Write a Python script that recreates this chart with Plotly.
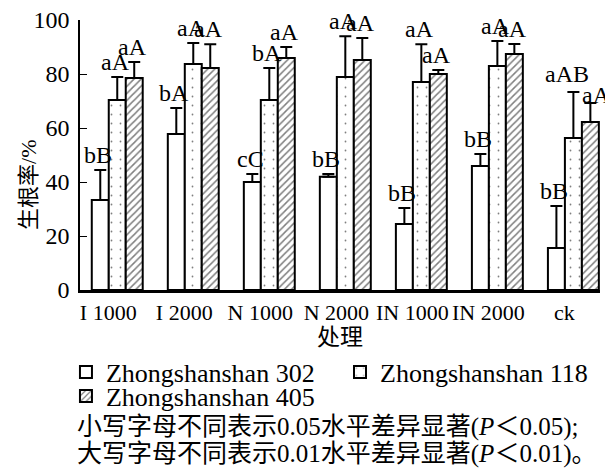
import plotly.graph_objects as go

categories = ["I 1000", "I 2000", "N 1000", "N 2000", "IN 1000", "IN 2000", "ck"]
series_names = ["Zhongshanshan 302", "Zhongshanshan 118", "Zhongshanshan 405"]

v302 = [33.3, 57.8, 40.0, 41.9, 24.4, 45.9, 15.6]
v118 = [70.4, 83.7, 70.4, 78.9, 77.0, 83.0, 56.3]
v405 = [78.5, 82.2, 85.9, 85.2, 80.0, 87.4, 62.2]

e302 = [11.1, 9.6, 3.0, 1.1, 6.0, 4.5, 15.5]
e118 = [8.5, 7.8, 11.8, 15.1, 14.0, 9.2, 17.0]
e405 = [5.9, 8.8, 4.1, 8.1, 1.5, 3.7, 7.1]

l302 = ["bB", "bA", "cC", "bB", "bB", "bB", "bB"]
l118 = ["aA", "aA", "bA", "aA", "aA", "aA", "aAB"]
l405 = ["aA", "aA", "aA", "aA", "aA", "aA", "aA"]

values = [v302, v118, v405]
errors = [e302, e118, e405]
letters = [l302, l118, l405]

# small layout nudges (px) for labels that sit beside their error bar
label_nudge = {(1, 6): (-4, 3), (2, 6): (8, -7)}

SERIF = "Liberation Serif, Noto Sans CJK SC"
BARGAP = 0.33
x_idx = list(range(len(categories)))

patterns = [
    dict(shape=""),
    dict(shape=".", size=9, solidity=0.03, fgcolor="black", bgcolor="white"),
    dict(shape="/", size=5, solidity=0.3, fgcolor="black", bgcolor="white"),
]
legend_ids = ["legend", "legend2", "legend3"]

fig = go.Figure()
for s in range(3):
    fig.add_trace(go.Bar(
        x=x_idx, y=values[s], name=series_names[s], legend=legend_ids[s],
        marker=dict(color="white", line=dict(color="black", width=2), pattern=patterns[s]),
        error_y=dict(type="data", array=errors[s], arrayminus=[0] * len(categories),
                     symmetric=False, color="black", thickness=2, width=6),
    ))

w = (1 - BARGAP) / 3
for s in range(3):
    for i in range(len(categories)):
        dx, dy = label_nudge.get((s, i), (0, 0))
        fig.add_annotation(
            x=i + (s - 1) * w, y=values[s][i] + errors[s][i],
            text=letters[s][i], showarrow=False, yanchor="bottom",
            xshift=-2 + dx, yshift=dy,
            font=dict(family=SERIF, size=24, color="black"),
        )

def cjk(t, size=25):
    return '<span style="font-size:%dpx">' % size + t + '</span>'

notes = [
    cjk("小写字母不同表示") + "0.05" + cjk("水平差异显著") + "(<i>P</i>" + cjk("＜") + "0.05);",
    cjk("大写字母不同表示") + "0.01" + cjk("水平差异显著") + "(<i>P</i>" + cjk("＜") + "0.01)" + cjk("。"),
]
note_y = [-0.5074, -0.6074]
for t, yy in zip(notes, note_y):
    fig.add_annotation(
        xref="paper", yref="paper", x=-0.0105, y=yy, xanchor="left", yanchor="middle",
        text=t, showarrow=False, font=dict(family=SERIF, size=25, color="black"),
    )

# y-axis title (rotated text, centred slightly below the plot middle as in the source)
fig.add_annotation(
    xref="paper", yref="paper", x=-0.0996, y=0.39, xanchor="center", yanchor="middle",
    text=cjk("生根率", 22) + "/%", textangle=-90, showarrow=False,
    font=dict(family=SERIF, size=22, color="black"),
)

leg_common = dict(orientation="h", xanchor="left", yanchor="middle",
                  font=dict(family=SERIF, size=26, color="black"),
                  bgcolor="rgba(0,0,0,0)", borderwidth=0)

# the page body has an 8 px default margin, so the figure is sized/margined to compensate
fig.update_layout(
    width=605, height=460,
    margin=dict(l=72, r=13, t=12, b=178),
    paper_bgcolor="white", plot_bgcolor="white",
    barmode="group", bargap=BARGAP, bargroupgap=0,
    font=dict(family=SERIF, size=22, color="black"),
    showlegend=True,
    legend=dict(x=-0.027, y=-0.3037, **leg_common),
    legend2=dict(x=0.50, y=-0.3037, **leg_common),
    legend3=dict(x=-0.027, y=-0.3926, **leg_common),
    xaxis=dict(
        range=[-0.49, 6.35], tickmode="array", tickvals=x_idx, ticktext=categories,
        showline=True, linecolor="black", linewidth=2.5, ticks="", showgrid=False,
        zeroline=False, tickangle=0, ticklabelshift=-9, ticklabelstandoff=1, automargin=False,
        ticklabeloverflow="allow",
        title=dict(text="处理", standoff=2, font=dict(family=SERIF, size=23)),
        tickfont=dict(family=SERIF, size=22),
    ),
    yaxis=dict(
        range=[0, 100], tickvals=[0, 20, 40, 60, 80, 100],
        showline=True, linecolor="black", linewidth=1.5, ticks="inside", ticklen=7,
        tickcolor="black", tickwidth=1, showgrid=False, zeroline=False,
        ticklabelstandoff=4, automargin=False, ticklabeloverflow="allow",
        tickfont=dict(family=SERIF, size=24),
    ),
)

fig.write_html("out.html")
